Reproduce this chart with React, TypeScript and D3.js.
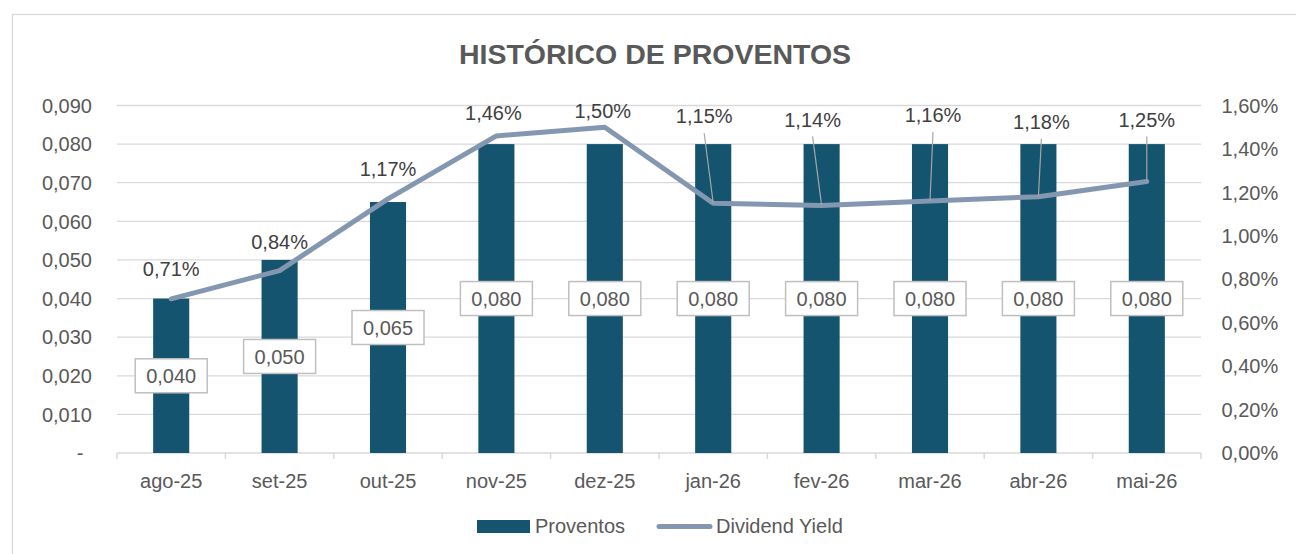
import React from "react";
import * as d3 from "d3";

const categories = ["ago-25", "set-25", "out-25", "nov-25", "dez-25", "jan-26", "fev-26", "mar-26", "abr-26", "mai-26"];
const proventos = [0.04, 0.05, 0.065, 0.08, 0.08, 0.08, 0.08, 0.08, 0.08, 0.08];
const dividendYield = [0.71, 0.84, 1.17, 1.46, 1.5, 1.15, 1.14, 1.16, 1.18, 1.25];
const leftTicks = [0, 0.01, 0.02, 0.03, 0.04, 0.05, 0.06, 0.07, 0.08, 0.09];
const rightTicks = [0, 0.2, 0.4, 0.6, 0.8, 1.0, 1.2, 1.4, 1.6];
const title = "HISTÓRICO DE PROVENTOS";
const seriesNames = ["Proventos", "Dividend Yield"];

// label placement offsets (pixels, relative to the point) — layout only
const pctLabelOffsets: [number, number][] = [
  [0, -30], [0, -29], [0, -30], [-3, -23], [-2, -16],
  [-9, -87], [-9, -86], [3, -86], [3, -75], [0, -62],
];

const W = 1296;
const H = 554;
const FONT = "'Liberation Sans', Arial, sans-serif";
const BAR = "#14546f";
const LINE = "#8497b0";
const GRID = "#d9d9d9";
const TXT = "#595959";
const LBL = "#404040";

const fmtNum = (v: number) => d3.format(".3f")(v).replace(".", ",");
const fmtPct = (v: number) => d3.format(".2f")(v).replace(".", ",") + "%";

export default function App() {
  const left = 117, right = 1201, top = 105.5, bottom = 453;
  const x = d3.scaleBand<string>().domain(categories).range([left, right]).padding(0);
  const bw = x.bandwidth();
  const barW = bw * 0.333;
  const yL = d3.scaleLinear().domain([0, 0.09]).range([bottom, top]);
  const yR = d3.scaleLinear().domain([0, 1.6]).range([bottom, top]);
  const cx = (c: string) => (x(c) as number) + bw / 2;

  const line = d3
    .line<number>()
    .x((_, i) => cx(categories[i]))
    .y((d) => yR(d));

  const boundaries = categories.map((c) => x(c) as number).concat([right]);

  return (
    <svg
      width={W}
      height={H}
      style={{ position: "absolute", left: 0, top: 0, background: "#fff" }}
      fontFamily={FONT}
    >
      <rect x={0} y={0} width={W} height={H} fill="#fff" />
      <rect x={12.5} y={14.5} width={W + 20} height={H + 20} fill="#fff" stroke={GRID} strokeWidth={1.3} />

      <text x={655} y={64} textAnchor="middle" fontSize={28.5} fontWeight="bold" fill={TXT}>
        {title}
      </text>

      {/* gridlines */}
      {leftTicks.slice(1).map((t) => (
        <line key={"g" + t} x1={left} x2={right} y1={yL(t)} y2={yL(t)} stroke={GRID} strokeWidth={1.3} />
      ))}

      {/* x axis */}
      <line x1={left} x2={right} y1={bottom} y2={bottom} stroke={GRID} strokeWidth={1.5} />
      {boundaries.map((b, i) => (
        <line key={"t" + i} x1={b} x2={b} y1={bottom} y2={bottom + 6} stroke={GRID} strokeWidth={1.5} />
      ))}
      {categories.map((c) => (
        <text key={"xl" + c} x={cx(c)} y={487.5} textAnchor="middle" fontSize={20} fill={TXT}>
          {c}
        </text>
      ))}

      {/* left axis labels */}
      {leftTicks.map((t) =>
        t === 0 ? (
          <text key={"l" + t} x={83.5} y={yL(t) + 7.2} textAnchor="end" fontSize={20} fill={TXT}>
            -
          </text>
        ) : (
          <text key={"l" + t} x={92} y={yL(t) + 7.2} textAnchor="end" fontSize={20} fill={TXT}>
            {fmtNum(t)}
          </text>
        )
      )}

      {/* right axis labels */}
      {rightTicks.map((t) => (
        <text key={"r" + t} x={1221.5} y={yR(t) + 7.2} textAnchor="start" fontSize={20} fill={TXT}>
          {fmtPct(t)}
        </text>
      ))}

      {/* bars */}
      {categories.map((c, i) => (
        <rect
          key={"b" + c}
          x={cx(c) - barW / 2}
          y={yL(proventos[i])}
          width={barW}
          height={bottom - yL(proventos[i])}
          fill={BAR}
        />
      ))}

      {/* bar value labels */}
      {categories.map((c, i) => {
        const yc = yL(proventos[i] / 2);
        return (
          <g key={"bl" + c}>
            <rect x={cx(c) - 36} y={yc - 17} width={72} height={34} fill="#fff" stroke="#bfbfbf" strokeWidth={1.5} />
            <text x={cx(c)} y={yc + 7.2} textAnchor="middle" fontSize={20} fill={TXT}>
              {fmtNum(proventos[i])}
            </text>
          </g>
        );
      })}

      {/* line */}
      <path d={line(dividendYield) || ""} fill="none" stroke={LINE} strokeWidth={5} strokeLinejoin="round" strokeLinecap="round" />

      {/* percent labels */}
      {categories.map((c, i) => {
        const px = cx(c);
        const py = yR(dividendYield[i]);
        const [dx, dy] = pctLabelOffsets[i];
        const lx = px + dx;
        const ly = py + dy;
        const leader = -dy > 40;
        return (
          <g key={"pl" + c}>
            {leader && <line x1={lx} y1={ly + 17} x2={px} y2={py} stroke="#a6a6a6" strokeWidth={1.2} />}
            <text x={lx} y={ly + 7.2} textAnchor="middle" fontSize={20} fill={LBL}>
              {fmtPct(dividendYield[i])}
            </text>
          </g>
        );
      })}

      {/* legend */}
      <rect x={477} y={520} width={53} height={13} fill={BAR} />
      <text x={535} y={533} fontSize={20} fill={TXT}>
        {seriesNames[0]}
      </text>
      <line x1={659} x2={710} y1={526.5} y2={526.5} stroke={LINE} strokeWidth={5} strokeLinecap="round" />
      <text x={716} y={533} fontSize={20} fill={TXT}>
        {seriesNames[1]}
      </text>
    </svg>
  );
}
